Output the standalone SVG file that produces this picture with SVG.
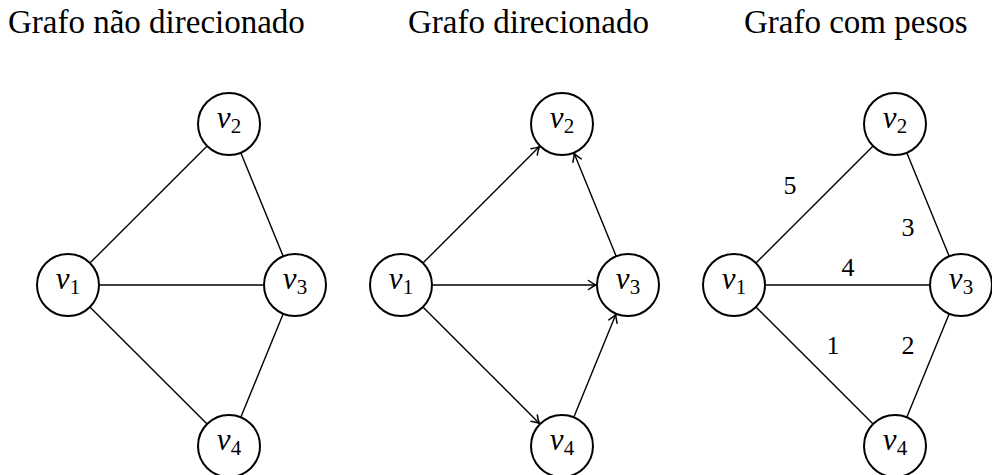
<svg xmlns="http://www.w3.org/2000/svg" width="992" height="475" viewBox="0 0 992 475">
<defs>
<style>
.title{font-family:"Liberation Serif",serif;font-size:33px;fill:#000}
.node circle{fill:#fff;stroke:#000;stroke-width:2}
.lbl{font-family:"Liberation Serif",serif;font-size:31px;fill:#000;text-anchor:middle}
.lbl .v{font-style:italic}
.lbl .s{font-size:21px}
.edge{stroke:#000;stroke-width:1.4;fill:none}
.arr{marker-end:url(#ah)}
.w{font-family:"Liberation Serif",serif;font-size:26px;fill:#000;text-anchor:middle}
</style>
<marker id="ah" viewBox="-9 -6 11 12" refX="0" refY="0" markerWidth="11" markerHeight="12" markerUnits="userSpaceOnUse" orient="auto">
<path d="M -7.5 -4.5 Q -3 -1.2 0 0 Q -3 1.2 -7.5 4.5" fill="none" stroke="#000" stroke-width="1.5" stroke-linecap="round"/>
</marker>
</defs>
<rect width="992" height="475" fill="#fff"/>
<text class="title" x="8" y="33">Grafo não direcionado</text>
<text class="title" x="408" y="33">Grafo direcionado</text>
<text class="title" x="744" y="33">Grafo com pesos</text>
<g id="connectors">
<g id="g1-edges">
<line class="edge" x1="89.9" y1="263.1" x2="207.1" y2="145.9"/>
<line class="edge" x1="99" y1="285" x2="264" y2="285"/>
<line class="edge" x1="89.9" y1="306.9" x2="207.1" y2="424.1"/>
<line class="edge" x1="283.2" y1="256.3" x2="240.8" y2="152.7"/>
<line class="edge" x1="240.8" y1="417.3" x2="283.2" y2="313.7"/>
</g>
<g id="g2-edges">
<line class="edge arr" x1="422.9" y1="263.1" x2="539.4" y2="146.6"/>
<line class="edge arr" x1="432" y1="285" x2="596" y2="285"/>
<line class="edge arr" x1="422.9" y1="306.9" x2="539.4" y2="423.4"/>
<line class="edge arr" x1="616.2" y1="256.3" x2="574.2" y2="153.6"/>
<line class="edge arr" x1="573.8" y1="417.3" x2="615.8" y2="314.6"/>
</g>
<g id="g3-edges">
<line class="edge" x1="755.9" y1="263.1" x2="873.1" y2="145.9"/>
<line class="edge" x1="765" y1="285" x2="930" y2="285"/>
<line class="edge" x1="755.9" y1="306.9" x2="873.1" y2="424.1"/>
<line class="edge" x1="949.2" y1="256.3" x2="906.8" y2="152.7"/>
<line class="edge" x1="906.8" y1="417.3" x2="949.2" y2="313.7"/>
</g>
<g id="weights">
<text class="w" x="790" y="194">5</text>
<text class="w" x="908" y="236">3</text>
<text class="w" x="848" y="276">4</text>
<text class="w" x="833" y="354">1</text>
<text class="w" x="908" y="354">2</text>
</g>
</g>
<g id="g1-v1" class="node"><circle cx="68" cy="285" r="31"/><text class="lbl" x="68" y="289"><tspan class="v">v</tspan><tspan class="s" dy="5">1</tspan></text></g>
<g id="g1-v2" class="node"><circle cx="229" cy="124" r="31"/><text class="lbl" x="229" y="128"><tspan class="v">v</tspan><tspan class="s" dy="5">2</tspan></text></g>
<g id="g1-v3" class="node"><circle cx="295" cy="285" r="31"/><text class="lbl" x="295" y="289"><tspan class="v">v</tspan><tspan class="s" dy="5">3</tspan></text></g>
<g id="g1-v4" class="node"><circle cx="229" cy="446" r="31"/><text class="lbl" x="229" y="450"><tspan class="v">v</tspan><tspan class="s" dy="5">4</tspan></text></g>
<g id="g2-v1" class="node"><circle cx="401" cy="285" r="31"/><text class="lbl" x="401" y="289"><tspan class="v">v</tspan><tspan class="s" dy="5">1</tspan></text></g>
<g id="g2-v2" class="node"><circle cx="562" cy="124" r="31"/><text class="lbl" x="562" y="128"><tspan class="v">v</tspan><tspan class="s" dy="5">2</tspan></text></g>
<g id="g2-v3" class="node"><circle cx="628" cy="285" r="31"/><text class="lbl" x="628" y="289"><tspan class="v">v</tspan><tspan class="s" dy="5">3</tspan></text></g>
<g id="g2-v4" class="node"><circle cx="562" cy="446" r="31"/><text class="lbl" x="562" y="450"><tspan class="v">v</tspan><tspan class="s" dy="5">4</tspan></text></g>
<g id="g3-v1" class="node"><circle cx="734" cy="285" r="31"/><text class="lbl" x="734" y="289"><tspan class="v">v</tspan><tspan class="s" dy="5">1</tspan></text></g>
<g id="g3-v2" class="node"><circle cx="895" cy="124" r="31"/><text class="lbl" x="895" y="128"><tspan class="v">v</tspan><tspan class="s" dy="5">2</tspan></text></g>
<g id="g3-v3" class="node"><circle cx="961" cy="285" r="31"/><text class="lbl" x="961" y="289"><tspan class="v">v</tspan><tspan class="s" dy="5">3</tspan></text></g>
<g id="g3-v4" class="node"><circle cx="895" cy="446" r="31"/><text class="lbl" x="895" y="450"><tspan class="v">v</tspan><tspan class="s" dy="5">4</tspan></text></g>
</svg>
